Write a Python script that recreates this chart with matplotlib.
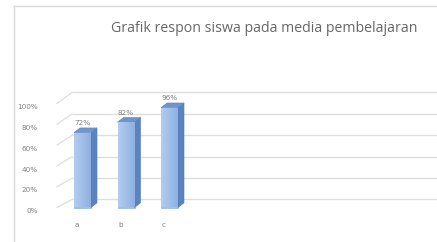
import matplotlib
matplotlib.use("Agg")
import matplotlib.pyplot as plt
from matplotlib.patches import Polygon
from matplotlib.colors import LinearSegmentedColormap
import numpy as np

categories = ["a", "b", "c"]
values = [72, 82, 96]
value_labels = ["72%", "82%", "96%"]
yticks = [0, 20, 40, 60, 80, 100]
ytick_labels = ["0%", "20%", "40%", "60%", "80%", "100%"]
title = "Grafik respon siswa pada media pembelajaran"

W, H = 437, 242
fig = plt.figure(figsize=(W / 100, H / 100), dpi=100)
fig.patch.set_facecolor("white")

# frame of the chart area
fig.add_artist(plt.Line2D([14 / W, 14 / W], [0, 1 - 6 / H], color="#d9d9d9", lw=1.0))
fig.add_artist(plt.Line2D([14 / W, 1], [1 - 6 / H, 1 - 6 / H], color="#d9d9d9", lw=1.0))

# axes geometry (pixels)
ax_left, ax_right, ax_bottom, ax_top = 0, 437, 215, 80
ax = fig.add_axes([ax_left / W, (H - ax_bottom) / H, (ax_right - ax_left) / W, (ax_bottom - ax_top) / H])
ax.set_axis_off()

px_per_cat = 43.5
x0_px = 82.5
py_per_pct = 1.04
y0_px = 207.5
XLIM = ((ax_left - x0_px) / px_per_cat, (ax_right - x0_px) / px_per_cat)
YLIM = (-(ax_bottom - y0_px) / py_per_pct, (y0_px - ax_top) / py_per_pct)

def px2x(p):
    return (p - x0_px) / px_per_cat

# back wall / side wall
side_front_x = px2x(57)
side_back_x = px2x(72)
right_x = px2x(440)
grid_col = "#dedede"
for t, lab in zip(yticks, ytick_labels):
    back_y = 7.7 + 1.029 * t
    front_y = t
    ax.plot([side_back_x, right_x], [back_y, back_y], color=grid_col, lw=1.0, solid_capstyle="butt")
    ax.plot([side_front_x, side_back_x], [front_y, back_y], color=grid_col, lw=0.9)
    ax.text(px2x(38), front_y - 3.5, lab, ha="right", va="center", fontsize=5.2, color="#808080")

# 3D-looking bars
w = 17 / px_per_cat
dx = 6 / px_per_cat
dy = 4.5
xs = np.arange(len(categories))
bars = ax.bar(xs, values, width=w, color="#a0bfea", edgecolor="#86a8da", linewidth=0.4, zorder=3)
grad = np.linspace(0, 1, 64).reshape(1, -1)
cmap = LinearSegmentedColormap.from_list("front", ["#b3cdf0", "#8eb0e2"])
for b in bars:
    im = ax.imshow(grad, cmap=cmap, aspect="auto", zorder=3.5, interpolation="bilinear",
                   extent=[b.get_x(), b.get_x() + b.get_width(), b.get_y(), b.get_y() + b.get_height()])
    im.set_clip_path(b)
ax.set_xlim(*XLIM)
ax.set_ylim(*YLIM)

for x, v, lab in zip(xs, values, value_labels):
    r = x + w / 2
    l = x - w / 2
    side = Polygon([[r, 0], [r + dx, dy], [r + dx, v + dy], [r, v]], closed=True,
                   facecolor="#5b83bd", edgecolor="#4f77b0", lw=0.4, zorder=3)
    top = Polygon([[l, v], [l + dx, v + dy], [r + dx, v + dy], [r, v]], closed=True,
                  facecolor="#6e95cd", edgecolor="#5a82bb", lw=0.4, zorder=3)
    ax.add_patch(side)
    ax.add_patch(top)
    ax.text(x, v + dy + 1.5, lab, ha="center", va="bottom", fontsize=5.2, color="#808080", zorder=5)
    ax.text(x - 5.5 / px_per_cat, -17, categories[x], ha="center", va="center", fontsize=5.2, color="#808080")

fig.text(264 / W, 1 - 28 / H, title, ha="center", va="center", fontsize=10.2, color="#666666",
         family="Open Sans")

fig.savefig("out.png", dpi=100, facecolor="white")
